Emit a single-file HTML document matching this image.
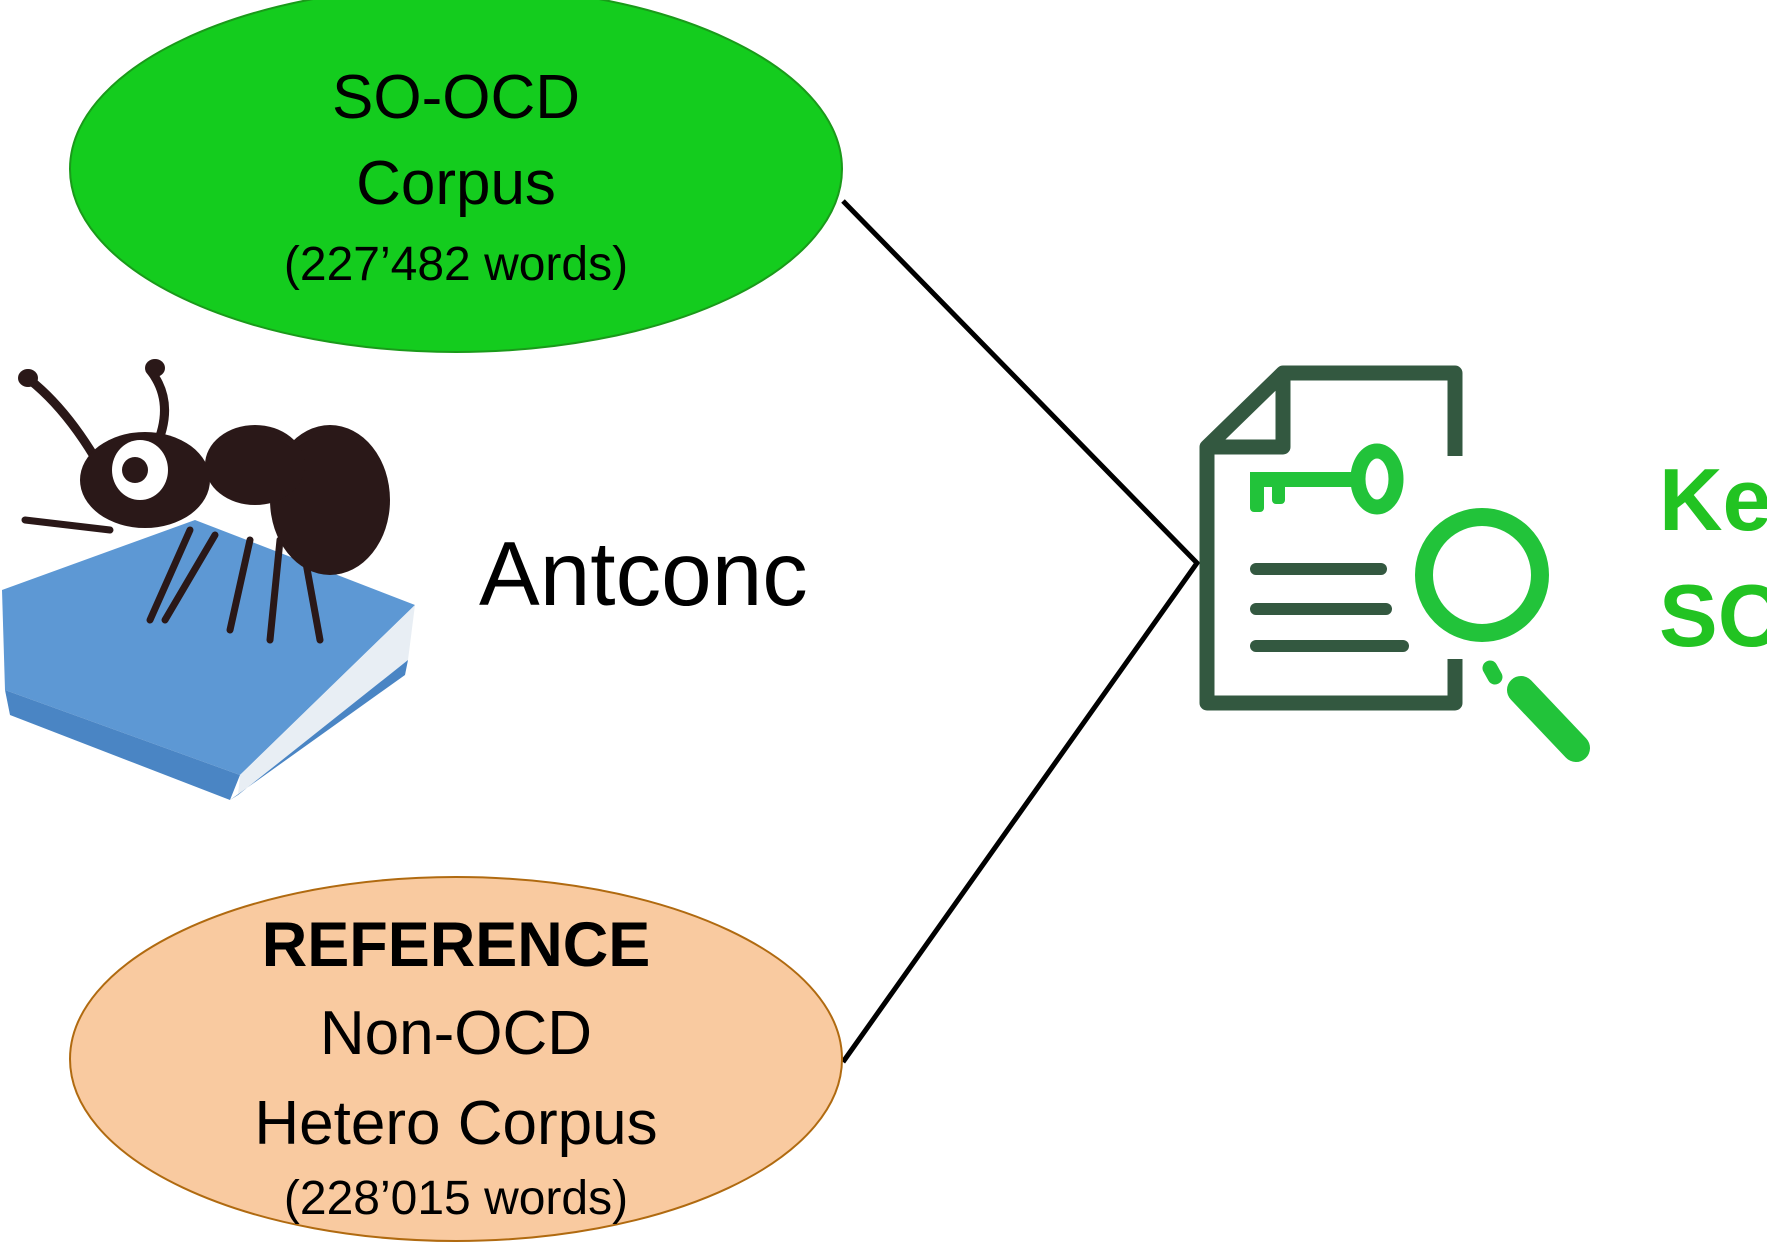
<!DOCTYPE html>
<html><head><meta charset="utf-8"><style>
html,body{margin:0;padding:0;background:#fff;}
svg{display:block;}
text{font-family:"Liberation Sans",sans-serif;}
</style></head><body>
<svg width="1767" height="1246" viewBox="0 0 1767 1246" xmlns="http://www.w3.org/2000/svg">
<rect width="1767" height="1246" fill="#fff"/>
<polyline points="843,201 1197,563 843,1062" fill="none" stroke="#000" stroke-width="5"/>
<ellipse cx="456" cy="169" rx="386" ry="183" fill="#14cc1e" stroke="#1a9a1a" stroke-width="2"/>
<text x="456" y="118" font-size="62" text-anchor="middle" fill="#000">SO-OCD</text>
<text x="456" y="204" font-size="62" text-anchor="middle" fill="#000">Corpus</text>
<text x="456" y="280" font-size="48" text-anchor="middle" fill="#000">(227’482 words)</text>
<ellipse cx="456" cy="1059" rx="386" ry="182" fill="#f9caa0" stroke="#b06a10" stroke-width="2"/>
<text x="456" y="966" font-size="63" font-weight="bold" text-anchor="middle" fill="#000">REFERENCE</text>
<text x="456" y="1054" font-size="62" text-anchor="middle" fill="#000">Non-OCD</text>
<text x="456" y="1144" font-size="62" text-anchor="middle" fill="#000">Hetero Corpus</text>
<text x="456" y="1214" font-size="48" text-anchor="middle" fill="#000">(228’015 words)</text>
<text x="479" y="605" font-size="91" fill="#000">Antconc</text>
<!-- book -->
<polygon points="2,590 195,520 415,605 240,775 5,690" fill="#5d98d4"/>
<polygon points="240,775 415,605 408,660 238,795" fill="#e8eef4"/>
<polygon points="238,795 408,660 405,675 230,800" fill="#4a85c4"/>
<polygon points="5,690 240,775 230,800 10,715" fill="#4a85c4"/>
<!-- ant -->
<g stroke="#2a1818" stroke-linecap="round" fill="none">
<path d="M120,505 Q80,420 30,380" stroke-width="9"/>
<path d="M120,500 Q190,420 150,370" stroke-width="9"/>
<path d="M110,530 L25,520" stroke-width="7"/>
<path d="M190,530 L150,620" stroke-width="7"/>
<path d="M215,535 L165,620" stroke-width="7"/>
<path d="M250,540 L230,630" stroke-width="7"/>
<path d="M280,540 L270,640" stroke-width="7"/>
<path d="M300,530 L320,640" stroke-width="7"/>
</g>
<ellipse cx="28" cy="378" rx="10" ry="9" fill="#2a1818"/>
<ellipse cx="155" cy="368" rx="10" ry="9" fill="#2a1818"/>
<ellipse cx="330" cy="500" rx="60" ry="75" fill="#2a1818"/>
<ellipse cx="255" cy="465" rx="50" ry="40" fill="#2a1818"/>
<ellipse cx="145" cy="480" rx="65" ry="48" fill="#2a1818"/>
<ellipse cx="140" cy="470" rx="28" ry="30" fill="#fff"/>
<circle cx="135" cy="470" r="13" fill="#2a1818"/>
<!-- document icon -->
<g fill="none" stroke="#335840" stroke-width="15" stroke-linejoin="round">
<polyline points="1455,456 1455,373 1283,373 1207,447 1207,703 1455,703 1455,659"/>
<polyline points="1283,373 1283,447 1207,447"/>
</g>
<g stroke="#335840" stroke-width="12" stroke-linecap="round">
<line x1="1256" y1="569" x2="1381" y2="569"/>
<line x1="1256" y1="609" x2="1386" y2="609"/>
<line x1="1256" y1="646" x2="1403" y2="646"/>
</g>
<g fill="#22c33a">
<rect x="1250" y="472" width="112" height="15"/>
<rect x="1250" y="472" width="14" height="40" rx="4"/>
<rect x="1272" y="472" width="13" height="32" rx="4"/>
</g>
<ellipse cx="1377" cy="479" rx="19" ry="28" fill="none" stroke="#22c33a" stroke-width="15"/>
<circle cx="1482" cy="575" r="58" fill="#fff" stroke="#22c33a" stroke-width="18"/>
<line x1="1490" y1="668" x2="1495" y2="677" stroke="#22c33a" stroke-width="15" stroke-linecap="round"/>
<line x1="1521" y1="690" x2="1576" y2="748" stroke="#22c33a" stroke-width="28" stroke-linecap="round"/>
<text x="1659" y="530" font-size="88" font-weight="bold" fill="#22c322">Ke</text>
<text x="1659" y="646" font-size="88" font-weight="bold" fill="#22c322">SO</text>
</svg>
</body></html>
